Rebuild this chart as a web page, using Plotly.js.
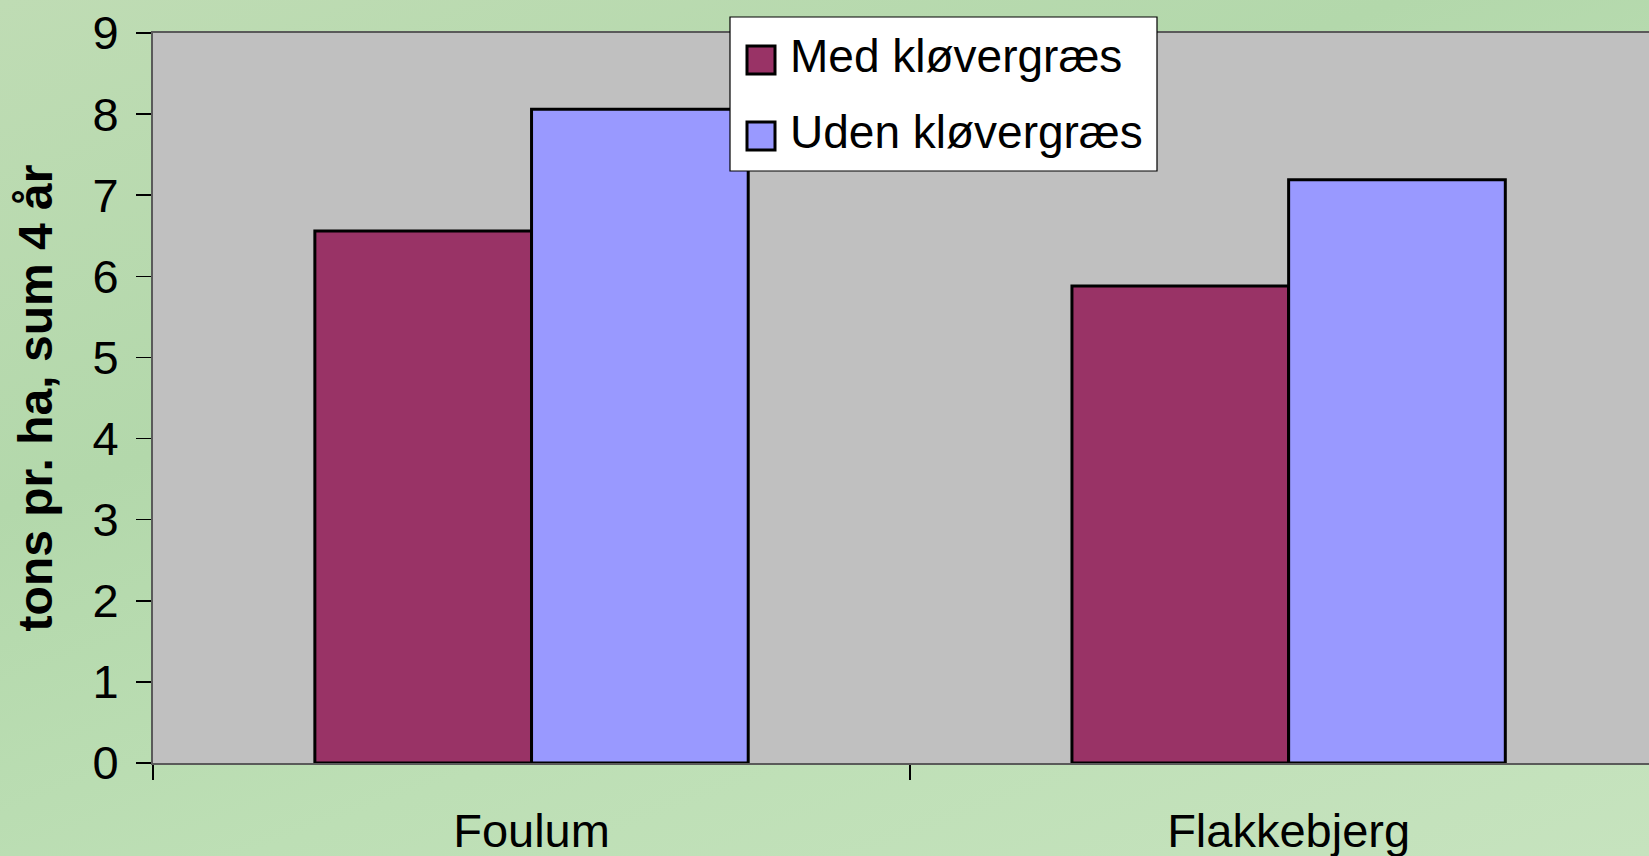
<!DOCTYPE html>
<html>
<head>
<meta charset="utf-8">
<script src="https://cdn.plot.ly/plotly-3.0.1.min.js"></script>
<style>
  html, body { margin: 0; padding: 0; width: 1649px; height: 856px; overflow: hidden; }
  body { background: linear-gradient(160deg, #bfdcb4 0%, #b3d8ab 35%, #bddfb5 65%, #c6e3be 100%); }
  #chart { width: 1649px; height: 856px; }
</style>
</head>
<body>
<div id="chart"></div>
<script>
// ---- data ----
const categories = ['Foulum', 'Flakkebjerg'];
const medValues = [6.56, 5.88];
const udenValues = [8.06, 7.19];
const seriesNames = ['Med kløvergræs', 'Uden kløvergræs'];
const seriesColors = ['#993366', '#9999ff'];
const yTickVals = [0, 1, 2, 3, 4, 5, 6, 7, 8, 9];
const yTitle = 'tons pr. ha, sum 4 år';

// ---- layout helpers ----
const W = 1649, H = 856;
const mL = 153, mR = 0, mT = 33, mB = 93;
const plotW = W - mL - mR, plotH = H - mT - mB;
const FONT = 'Arial, "Liberation Sans", sans-serif';
const px2x = p => (p - mL) / plotW;
const py2y = p => (H - mB - p) / plotH;

const traces = [medValues, udenValues].map((vals, i) => ({
  type: 'bar',
  name: seriesNames[i],
  x: categories,
  y: vals,
  marker: { color: seriesColors[i], line: { color: '#000000', width: 3 } },
  showlegend: false,
  hoverinfo: 'x+y+name'
}));

// manual legend (box, swatches, labels)
const legBox = { x0: 730, x1: 1157, y0: 17, y1: 171 };
const rowY = [60, 136];
const shapes = [{
  type: 'rect', xref: 'paper', yref: 'paper', layer: 'above',
  x0: px2x(legBox.x0), x1: px2x(legBox.x1), y0: py2y(legBox.y1), y1: py2y(legBox.y0),
  fillcolor: '#ffffff', line: { color: '#000000', width: 1.2 }
}];
const annotations = [];
seriesNames.forEach((nm, i) => {
  shapes.push({
    type: 'rect', xref: 'paper', yref: 'paper', layer: 'above',
    x0: px2x(747), x1: px2x(775), y0: py2y(rowY[i] + 14), y1: py2y(rowY[i] - 14),
    fillcolor: seriesColors[i], line: { color: '#000000', width: 3 }
  });
  annotations.push({
    xref: 'paper', yref: 'paper', x: px2x(788), y: py2y(rowY[i] - 4),
    xanchor: 'left', yanchor: 'middle', showarrow: false,
    text: nm, font: { family: FONT, size: 46, color: '#000000' }
  });
});

const layout = {
  width: W, height: H,
  margin: { l: mL, r: mR, t: mT, b: mB, pad: 0 },
  paper_bgcolor: 'rgba(0,0,0,0)',
  plot_bgcolor: '#c0c0c0',
  barmode: 'group',
  bargap: 0.4276,
  bargroupgap: 0,
  font: { family: FONT, size: 46, color: '#000000' },
  xaxis: {
    type: 'category',
    range: [-0.5, 1.476],
    tickson: 'boundaries',
    ticks: 'outside', ticklen: 15, tickwidth: 1.5, tickcolor: '#000000',
    showline: true, linecolor: '#5a5a5a', linewidth: 2, mirror: true,
    showgrid: false, zeroline: false,
    ticklabelstandoff: 26,
    tickfont: { family: FONT, size: 47, color: '#000000' },
    fixedrange: true
  },
  yaxis: {
    range: [0, 9],
    tickvals: yTickVals,
    ticktext: yTickVals.map(String),
    ticks: 'outside', ticklen: 15, tickwidth: 1.5, tickcolor: '#000000',
    showline: true, linecolor: '#5a5a5a', linewidth: 2, mirror: true,
    showgrid: false, zeroline: false,
    ticklabelstandoff: 8,
    tickfont: { family: FONT, size: 47, color: '#000000' },
    title: { text: '<b>' + yTitle + '</b>', font: { family: FONT, size: 48, color: '#000000' }, standoff: 25 },
    fixedrange: true
  },
  shapes: shapes,
  annotations: annotations,
  showlegend: false
};

Plotly.newPlot('chart', traces, layout, { displayModeBar: false, staticPlot: true });
</script>
</body>
</html>
